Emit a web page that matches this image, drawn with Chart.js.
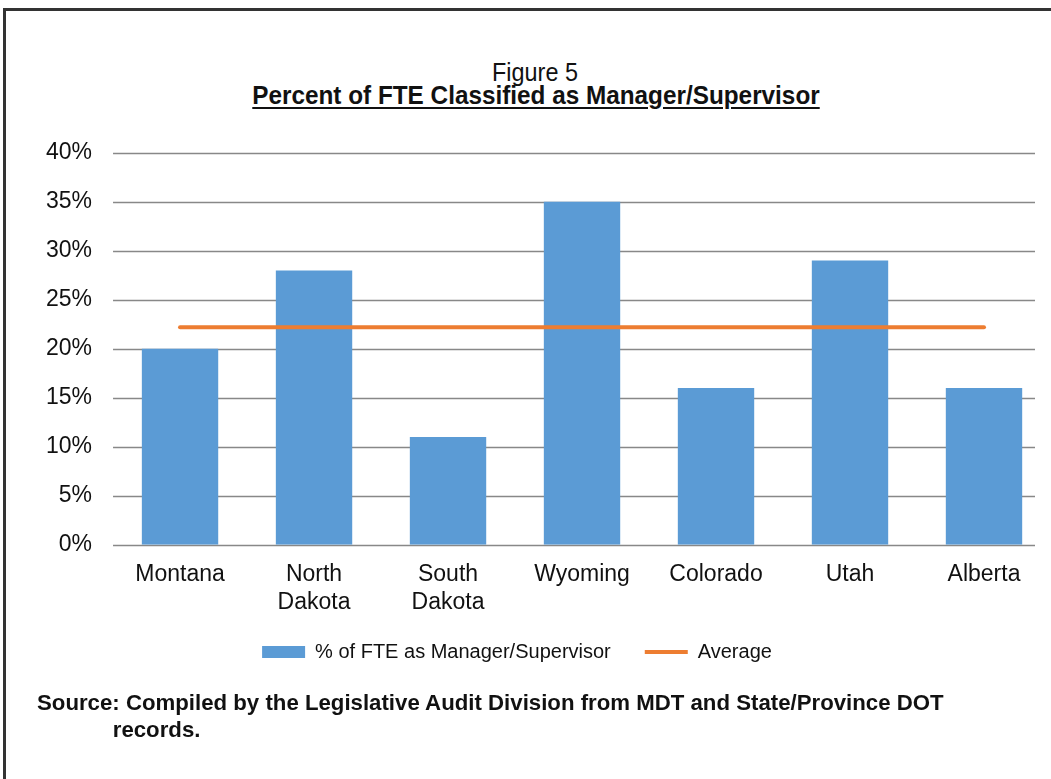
<!DOCTYPE html>
<html>
<head>
<meta charset="utf-8">
<script src="https://cdn.jsdelivr.net/npm/chart.js@4.4.0/dist/chart.umd.min.js"></script>
<style>
  html, body { margin: 0; padding: 0; background: #fff; }
  body { width: 1051px; height: 779px; position: relative; overflow: hidden; font-family: "Liberation Sans", Arial, sans-serif; }
  .frame { position: absolute; left: 3px; top: 8px; right: -10px; bottom: -10px; border-left: 3px solid #333; border-top: 3px solid #333; }
  .narrow { font-family: "Liberation Sans Narrow", "Arial Narrow", "Liberation Sans", sans-serif; color: #111; }
  #fig { position: absolute; top: 57px; left: 0; width: 1070px; text-align: center; font-size: 26px; transform: scaleX(0.9); transform-origin: 535px 0; }
  #title { position: absolute; top: 80px; left: 0; width: 1072px; text-align: center; font-size: 26px; font-weight: bold; text-decoration: underline; text-underline-offset: 3px; transform: scaleX(0.935); transform-origin: 536px 0; }
  #wrap { position: absolute; left: 0; top: 118px; width: 1051px; height: 578px; }
  #source { position: absolute; left: 37px; top: 689px; font-size: 22px; font-weight: bold; line-height: 27px; transform: scaleX(1.01); transform-origin: 0 0; }
  #source span { display: block; padding-left: 75px; }
</style>
</head>
<body>
<div class="frame"></div>
<div id="fig" class="narrow">Figure 5</div>
<div id="title" class="narrow">Percent of FTE Classified as Manager/Supervisor</div>
<div id="wrap"><canvas id="chart"></canvas></div>
<div id="source" class="narrow">Source: Compiled by the Legislative Audit Division from MDT and State/Province DOT<span>records.</span></div>
<script>
const categories = ['Montana', ['North', 'Dakota'], ['South', 'Dakota'], 'Wyoming', 'Colorado', 'Utah', 'Alberta'];
const fteShare = [20, 28, 11, 35, 16, 29, 16];
const averageLine = [22.2, 22.2, 22.2, 22.2, 22.2, 22.2, 22.2];
const yTicks = [0, 5, 10, 15, 20, 25, 30, 35, 40];

// horizontal gridlines stop a bit short of the right edge, like the original
const gridPlugin = {
    id: 'shortGrid',
    beforeDatasetsDraw(chart) {
        const ctx = chart.ctx;
        const area = chart.chartArea;
        const y = chart.scales.y;
        ctx.save();
        ctx.strokeStyle = '#888888';
        ctx.lineWidth = 1.5;
        yTicks.forEach(v => {
            const py = Math.round(y.getPixelForValue(v)) + 0.5;
            ctx.beginPath();
            ctx.moveTo(area.left, py);
            ctx.lineTo(area.right - 16, py);
            ctx.stroke();
        });
        ctx.restore();
    }
};

// pull the legend a little closer to the axis labels and to the left
const legendShift = {
    id: 'legendShift',
    afterLayout(chart) {
        const lg = chart.legend;
        lg.top -= 24; lg.bottom -= 24;
        lg.left -= 21; lg.right -= 21;
    }
};

Chart.defaults.font.family = '"Liberation Sans", Arial, sans-serif';
Chart.defaults.color = '#111';

new Chart(document.getElementById('chart'), {
    type: 'bar',
    data: {
        labels: categories,
        datasets: [{
            label: '% of FTE as Manager/Supervisor',
            data: fteShare,
            backgroundColor: '#5B9BD5',
            barPercentage: 0.57,
            categoryPercentage: 1,
            pointStyle: 'rect',
            order: 1
        }, {
            type: 'line',
            label: 'Average',
            data: averageLine,
            borderColor: '#ED7D31',
            backgroundColor: '#ED7D31',
            borderWidth: 4,
            borderCapStyle: 'round',
            pointRadius: 0,
            pointStyle: 'line',
            order: 0
        }]
    },
    options: {
        responsive: true,
        maintainAspectRatio: false,
        animation: false,
        layout: { padding: { top: 31, left: 25, right: 0, bottom: 0 } },
        scales: {
            x: {
                grid: { display: false, drawTicks: false },
                border: { display: false },
                ticks: { font: { size: 23, lineHeight: 1.2 }, padding: 16, color: '#111', maxRotation: 0 }
            },
            y: {
                min: 0,
                max: 40,
                grid: { display: false, drawTicks: false },
                border: { display: false },
                ticks: { stepSize: 5, padding: 21, font: { size: 23 }, color: '#111', callback: v => v + '%' }
            }
        },
        plugins: {
            legend: {
                position: 'bottom',
                labels: {
                    usePointStyle: true,
                    pointStyleWidth: 43,
                    boxHeight: 12,
                    padding: 34,
                    font: { size: 20 },
                    color: '#111',
                    sort: (a, b) => a.datasetIndex - b.datasetIndex
                }
            },
            tooltip: { enabled: false }
        }
    },
    plugins: [gridPlugin, legendShift]
});
</script>
</body>
</html>
